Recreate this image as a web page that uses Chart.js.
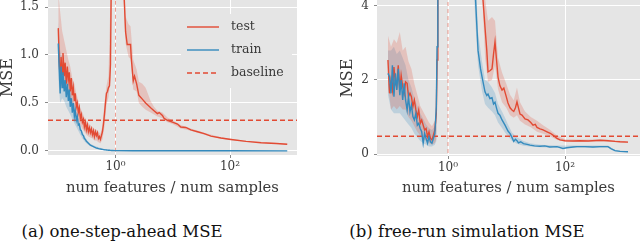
<!DOCTYPE html>
<html><head><meta charset="utf-8">
<script src="https://cdn.jsdelivr.net/npm/chart.js@4.4.0/dist/chart.umd.min.js"></script>
<style>
html,body{margin:0;padding:0;background:#fff;width:640px;height:248px;overflow:hidden;}
#c1{position:absolute;left:0;top:0;}
#c2{position:absolute;left:320px;top:0;}
.cap{position:absolute;top:222px;line-height:20px;font-family:"DejaVu Serif",serif;font-size:16.5px;color:#111;white-space:nowrap;transform:translateX(-50%);}
</style></head><body>
<canvas id="c1" width="320" height="200"></canvas>
<canvas id="c2" width="320" height="200"></canvas>
<div class="cap" style="left:122px">(a) one-step-ahead MSE</div>
<div class="cap" style="left:467px">(b) free-run simulation MSE</div>
<script>
// ---------- data ----------
const legendLabels = ['test', 'train', 'baseline'];
const xTickValues = [1, 100];
const xTickLabels = ['10\u2070', '10\u00B2'];
const xTitle = 'num features / num samples';
const yTitle = 'MSE';
const threshold = 1;

// (a) one-step-ahead
const aYTickValues = [0, 0.5, 1.0, 1.5];
const aYTickLabels = ['0.0', '0.5', '1.0', '1.5'];
const aBaseline = 0.32;
const aTestX = [0.100,0.104,0.108,0.112,0.117,0.121,0.127,0.132,0.138,0.144,0.150,0.156,0.162,0.169,0.176,0.183,0.191,0.198,0.207,0.215,0.224,0.233,0.243,0.253,0.264,0.275,0.286,0.298,0.310,0.323,0.336,0.350,0.364,0.379,0.395,0.411,0.428,0.446,0.464,0.483,0.503,0.524,0.545,0.568,0.591,0.616,0.641,0.668,0.695,0.724,0.754,0.785,0.817,0.851,0.886,1.0,1.35,1.5,1.6,1.83,1.885,2.04,2.15,2.34,2.56,2.94,3.36,4.11,4.70,5.39,5.8,6.60,7.04,8.07,9.88,12.1,13.8,16.9,20.7,27.1,35.4,46.4,69.5,104,191,350,641,1000];
const aTestY = [1.28,0.95,0.72,0.98,0.80,1.02,0.78,0.92,0.70,0.88,0.74,0.82,0.62,0.76,0.58,0.66,0.52,0.60,0.46,0.50,0.40,0.45,0.34,0.38,0.30,0.33,0.25,0.30,0.22,0.27,0.20,0.24,0.19,0.23,0.17,0.21,0.15,0.20,0.16,0.19,0.13,0.15,0.12,0.16,0.20,0.28,0.38,0.50,0.60,0.62,0.66,0.68,0.90,2.0,3.0,30,1.9,1.24,1.11,1.11,0.97,0.73,0.78,0.70,0.58,0.54,0.50,0.45,0.42,0.39,0.40,0.37,0.34,0.32,0.30,0.28,0.25,0.245,0.22,0.20,0.18,0.155,0.135,0.12,0.10,0.085,0.078,0.07];
const aTrainX = [0.100,0.104,0.108,0.112,0.117,0.121,0.127,0.132,0.138,0.144,0.150,0.156,0.162,0.169,0.176,0.183,0.191,0.198,0.207,0.215,0.224,0.233,0.243,0.253,0.264,0.275,0.286,0.298,0.310,0.323,0.336,0.350,0.364,0.379,0.395,0.411,0.428,0.446,0.464,0.483,0.503,0.524,0.545,0.568,0.591,0.616,0.641,0.668,0.695,0.724,0.754,0.785,0.817,0.851,0.886,1.0,2.0,10,100,1000];
const aTrainY = [1.12,0.85,0.60,0.88,0.66,0.82,0.62,0.74,0.56,0.70,0.52,0.64,0.46,0.55,0.40,0.50,0.36,0.42,0.32,0.36,0.27,0.28,0.22,0.21,0.17,0.16,0.13,0.12,0.10,0.09,0.08,0.07,0.06,0.055,0.05,0.045,0.04,0.035,0.03,0.028,0.025,0.022,0.02,0.018,0.016,0.014,0.012,0.011,0.01,0.009,0.008,0.007,0.006,0.005,0.005,0.004,0.003,0.002,0.002,0.001];
const aTestBandX = [0.100,0.108,0.117,0.127,0.138,0.150,0.162,0.176,0.191,0.207,0.224,0.243,0.264,0.286,0.310,0.336,0.364,0.395,0.428,0.464,0.503,0.545,0.591,0.641,0.695,0.754,0.817,0.886,1.0,1.35,1.5,1.69,1.83,2.04,2.34,2.56,2.94,3.36,4.11,4.70,5.39,6.60,8.07,9.88,13.8,20.7,35.4,69.5,191,641,1000];
const aTestLo = [0.95,0.62,0.68,0.65,0.60,0.62,0.52,0.48,0.42,0.36,0.32,0.27,0.23,0.20,0.17,0.15,0.14,0.13,0.11,0.11,0.09,0.08,0.12,0.25,0.48,0.56,0.75,2.5,25,1.75,1.12,0.98,0.96,0.64,0.62,0.50,0.46,0.43,0.40,0.38,0.36,0.34,0.30,0.28,0.235,0.21,0.17,0.128,0.095,0.074,0.066];
const aTestHi = [1.65,1.45,1.25,1.15,1.05,0.95,0.88,0.76,0.70,0.60,0.52,0.45,0.40,0.35,0.31,0.29,0.27,0.25,0.23,0.22,0.20,0.18,0.26,0.50,0.68,0.78,1.60,3.5,45,2.3,1.40,1.32,1.30,0.95,0.85,0.72,0.70,0.66,0.52,0.46,0.42,0.40,0.35,0.32,0.27,0.235,0.19,0.142,0.105,0.082,0.074];
const aTrainBandX = [0.100,0.108,0.117,0.127,0.138,0.150,0.162,0.176,0.191,0.207,0.224,0.243,0.264,0.286,0.310,0.364,0.428,0.503,0.641,0.817];
const aTrainLo = [0.75,0.50,0.55,0.52,0.46,0.42,0.38,0.33,0.29,0.25,0.21,0.17,0.13,0.10,0.08,0.05,0.035,0.022,0.01,0.004];
const aTrainHi = [1.35,1.05,0.95,0.85,0.80,0.72,0.64,0.58,0.50,0.42,0.34,0.27,0.20,0.16,0.12,0.075,0.055,0.038,0.02,0.01];

// (b) free-run simulation
const bYTickValues = [0, 2, 4];
const bYTickLabels = ['0', '2', '4'];
const bBaseline = 0.48;
const bTestX = [0.094,0.1,0.106,0.112,0.119,0.126,0.133,0.141,0.15,0.158,0.168,0.178,0.188,0.2,0.211,0.224,0.237,0.251,0.266,0.282,0.299,0.316,0.335,0.355,0.376,0.398,0.422,0.447,0.473,0.501,0.531,0.562,0.596,0.631,0.65,0.67,1.0,3.8,3.95,4.3,4.6,4.83,5.2,5.65,6.0,6.36,6.7,7.16,7.7,8.38,9.0,9.9,10.6,11.5,12.4,13.3,14.2,15.1,15.7,17.0,18.4,20.7,23.3,26,28.4,31,33.2,37.4,42.1,49.2,56,62.3,73,82.2,100,137,180,250,396,543,716,872,1194];
const bTestY = [2.54,1.64,2.0,1.73,2.35,1.91,1.82,2.4,1.73,2.13,1.82,1.64,1.95,1.91,1.55,1.64,1.55,1.28,1.46,1.19,1.01,1.19,0.83,0.92,0.78,0.65,0.69,0.47,0.60,0.42,0.38,0.51,0.65,1.1,2.54,6,40,6,4.2,3.4,2.8,2.22,2.25,2.30,2.7,3.03,2.6,2.08,1.85,1.73,1.78,1.55,1.38,1.25,1.19,1.15,1.25,1.41,1.30,1.08,1.05,0.95,0.92,0.85,0.78,0.80,0.72,0.68,0.65,0.60,0.56,0.51,0.42,0.38,0.36,0.35,0.36,0.35,0.37,0.36,0.34,0.33,0.32];
const bTrainX = [0.094,0.1,0.106,0.112,0.119,0.126,0.133,0.141,0.15,0.158,0.168,0.178,0.188,0.2,0.211,0.224,0.237,0.251,0.266,0.282,0.299,0.316,0.335,0.355,0.376,0.398,0.422,0.447,0.473,0.501,0.531,0.562,0.596,0.631,0.65,0.67,1.0,2.75,2.95,3.26,3.6,3.81,4.29,4.6,4.83,5.2,5.65,6.0,6.36,6.8,7.16,7.7,8.38,9.43,10.6,11.5,12.4,13.3,14.2,15.1,16.0,17.5,19.5,22.5,25.2,30,37.4,45,55,73,92,108,137,160,220,300,396,543,620,716,872,1194];
const bTrainY = [2.18,2.09,1.64,2.4,1.55,2.18,1.73,2.3,1.59,2.0,1.46,1.91,1.46,1.19,1.55,1.14,1.32,1.01,0.92,1.1,0.78,0.83,0.69,0.60,0.29,0.56,0.42,0.29,0.47,0.33,0.29,0.42,0.56,1.28,2.9,6,40,6,4.2,2.8,2.3,2.09,1.68,1.58,1.62,1.50,1.52,1.35,1.40,1.22,1.10,1.05,0.92,0.78,0.62,0.55,0.45,0.34,0.40,0.36,0.30,0.33,0.28,0.26,0.24,0.22,0.21,0.22,0.19,0.20,0.15,0.17,0.19,0.20,0.20,0.19,0.20,0.20,0.14,0.09,0.07,0.06];
const bTestBandX = [0.094,0.106,0.119,0.133,0.150,0.168,0.188,0.211,0.237,0.266,0.299,0.335,0.376,0.422,0.473,0.531,0.596,0.631,0.65,0.67,1.0,3.8,4.3,4.83,5.65,6.36,7.16,8.38,9.9,11.5,13.3,15.1,17.0,20.7,26,33.2,42.1,56,73,100,200,500,1194];
const bTestLo = [1.9,1.2,1.3,1.2,1.3,1.2,1.2,1.0,0.9,0.75,0.6,0.5,0.4,0.35,0.3,0.25,0.3,0.4,1.8,4.5,30,4.5,2.6,1.95,2.0,2.4,1.75,1.4,1.25,1.05,0.98,1.05,0.9,0.8,0.72,0.6,0.55,0.48,0.38,0.33,0.33,0.34,0.30];
const bTestHi = [3.2,2.9,3.1,3.0,3.3,2.8,2.9,2.5,2.3,1.9,1.6,1.3,1.15,1.0,0.85,0.75,0.9,1.0,3.3,6,50,7,4.2,3.6,3.7,3.6,2.6,2.2,1.9,1.6,1.45,1.8,1.4,1.15,1.0,0.9,0.78,0.65,0.5,0.4,0.39,0.39,0.34];
const bTrainBandX = [0.094,0.106,0.119,0.133,0.150,0.168,0.188,0.211,0.237,0.266,0.299,0.335,0.376,0.422,0.473,0.531,0.596,0.631,0.65,0.67,1.0,2.75,2.95,3.26,3.81,4.29,4.83,5.65,6.36,7.16,8.38,9.43,10.6,12.4,15.1,19.5,25.2,37.4,73,160,543,716,1194];
const bTrainLo = [1.6,1.2,1.1,1.1,1.1,1.0,0.9,0.8,0.7,0.55,0.45,0.35,0.3,0.25,0.2,0.2,0.25,0.35,1.6,4.5,30,4.5,3.5,2.4,1.7,1.35,1.25,1.15,1.05,0.85,0.7,0.58,0.48,0.35,0.28,0.22,0.2,0.18,0.17,0.17,0.17,0.07,0.045];
const bTrainHi = [2.8,2.8,2.9,2.7,2.8,2.6,2.4,2.0,1.8,1.5,1.3,1.1,0.95,0.8,0.7,0.65,0.75,0.9,3.5,6,50,7,5.0,3.3,2.5,2.0,1.95,1.8,1.65,1.35,1.15,0.98,0.8,0.58,0.45,0.35,0.29,0.25,0.23,0.23,0.23,0.11,0.075];

// ---------- styling ----------
const RED = '#E24A33', BLUE = '#348ABD', BG = '#E5E5E5';
const RED_BAND = 'rgba(226,74,51,0.22)', BLUE_BAND = 'rgba(52,138,189,0.22)';
const SERIF = "'DejaVu Serif', serif";
const TEXT = '#3a3a3a';

function pts(xs, ys) { return xs.map((x, i) => ({ x: x, y: ys[i] })); }

const bgPlugin = {
  id: 'bg',
  beforeDraw(chart) {
    const a = chart.chartArea, ctx = chart.ctx;
    ctx.save(); ctx.fillStyle = BG;
    ctx.fillRect(a.left, a.top, a.right - a.left, a.bottom - a.top);
    ctx.restore();
  }
};

const legendPlugin = {
  id: 'inlegend',
  afterDatasetsDraw(chart) {
    const ctx = chart.ctx;
    ctx.save();
    ctx.fillStyle = BG;
    ctx.beginPath();
    ctx.roundRect(181, 14, 111, 74, 3);
    ctx.fill();
    const rows = [27, 50, 73];
    legendLabels.forEach((lab, i) => {
      const ds = chart.data.datasets.find(d => d.label === lab);
      ctx.strokeStyle = ds.borderColor;
      ctx.lineWidth = ds.borderWidth;
      ctx.setLineDash(ds.borderDash || []);
      ctx.beginPath();
      ctx.moveTo(187, rows[i]); ctx.lineTo(219, rows[i]);
      ctx.stroke();
      ctx.setLineDash([]);
      ctx.fillStyle = TEXT;
      ctx.font = "12.5px " + SERIF;
      ctx.textBaseline = 'middle';
      ctx.textAlign = 'left';
      ctx.fillText(lab, 231, rows[i]);
    });
    ctx.restore();
  }
};

function makeChart(id, p) {
  const datasets = [
    { label: 'train', data: pts(p.trainX, p.trainY), borderColor: BLUE, borderWidth: 1.4, pointRadius: 0, tension: 0, fill: false },
    { label: 'test', data: pts(p.testX, p.testY), borderColor: RED, borderWidth: 1.4, pointRadius: 0, tension: 0, fill: false },
    { label: 'baseline', data: [{ x: p.xMin, y: p.baseline }, { x: p.xMax, y: p.baseline }], borderColor: RED, borderWidth: 1.4, borderDash: [5, 3], pointRadius: 0, fill: false },
    { label: 'threshold', data: [{ x: threshold, y: -10 }, { x: threshold, y: 100 }], borderColor: 'rgba(226,74,51,0.55)', borderWidth: 1, borderDash: [4, 3], pointRadius: 0, fill: false },
    { label: 'testLo', data: pts(p.testBandX, p.testLo), borderColor: 'rgba(0,0,0,0)', borderWidth: 0, pointRadius: 0, fill: false },
    { label: 'testHi', data: pts(p.testBandX, p.testHi), borderColor: 'rgba(0,0,0,0)', borderWidth: 0, pointRadius: 0, fill: '-1', backgroundColor: RED_BAND },
    { label: 'trainLo', data: pts(p.trainBandX, p.trainLo), borderColor: 'rgba(0,0,0,0)', borderWidth: 0, pointRadius: 0, fill: false },
    { label: 'trainHi', data: pts(p.trainBandX, p.trainHi), borderColor: 'rgba(0,0,0,0)', borderWidth: 0, pointRadius: 0, fill: '-1', backgroundColor: BLUE_BAND }
  ];
  return new Chart(document.getElementById(id), {
    type: 'line',
    data: { datasets: datasets },
    plugins: p.plugins,
    options: {
      responsive: false, animation: false, devicePixelRatio: 1,
      layout: { padding: { left: 0, right: p.padRight, top: 0, bottom: 0 } },
      plugins: { legend: { display: false }, tooltip: { enabled: false } },
      scales: {
        x: {
          type: 'logarithmic', min: p.xMin, max: p.xMax,
          border: { display: false },
          grid: { color: '#ffffff', lineWidth: 1, tickColor: '#8a8a8a', tickLength: 3 },
          ticks: { autoSkip: false, maxRotation: 0, padding: 2, color: TEXT,
                   font: { family: SERIF, size: 12 },
                   callback: (v) => xTickLabels[xTickValues.indexOf(v)] },
          title: { display: true, text: xTitle, color: TEXT, font: { family: SERIF, size: 14.8, lineHeight: 1.2 }, padding: { top: 0, bottom: 3 } },
          afterBuildTicks: (s) => { s.ticks = xTickValues.map(v => ({ value: v })); },
          afterFit: (s) => { s.height = p.xAxisH; s.paddingLeft = 0; s.paddingRight = 0; }
        },
        y: {
          type: 'linear', min: p.yMin, max: p.yMax,
          border: { display: false },
          grid: { color: '#ffffff', lineWidth: 1, tickColor: '#8a8a8a', tickLength: 3 },
          ticks: { padding: p.yTickPad, color: TEXT, font: { family: SERIF, size: 12 },
                   callback: (v, i) => p.yTickLabels[i] },
          title: { display: true, text: yTitle, color: TEXT, font: { family: SERIF, size: 16, lineHeight: 1 }, padding: { top: p.yTitlePad, bottom: 0 } },
          afterBuildTicks: (s) => { s.ticks = p.yTickValues.map(v => ({ value: v })); },
          afterFit: (s) => { s.width = p.yAxisW; s.paddingTop = 0; s.paddingBottom = 0; }
        }
      }
    }
  });
}

makeChart('c1', {
  trainX: aTrainX, trainY: aTrainY, testX: aTestX, testY: aTestY,
  testBandX: aTestBandX, testLo: aTestLo, testHi: aTestHi,
  trainBandX: aTrainBandX, trainLo: aTrainLo, trainHi: aTrainHi,
  baseline: aBaseline, yTickValues: aYTickValues, yTickLabels: aYTickLabels,
  xMin: 0.0662, xMax: 1480, yMin: -0.042, yMax: 1.573,
  padRight: 23, xAxisH: 45, yAxisW: 48, yTickPad: 6, yTitlePad: 0,
  plugins: [bgPlugin, legendPlugin]
});
makeChart('c2', {
  trainX: bTrainX, trainY: bTrainY, testX: bTestX, testY: bTestY,
  testBandX: bTestBandX, testLo: bTestLo, testHi: bTestHi,
  trainBandX: bTrainBandX, trainLo: bTrainLo, trainHi: bTrainHi,
  baseline: bBaseline, yTickValues: bYTickValues, yTickLabels: bYTickLabels,
  xMin: 0.0611, xMax: 1914, yMin: -0.054, yMax: 4.162,
  padRight: 0, xAxisH: 44, yAxisW: 57, yTickPad: 5, yTitlePad: 20,
  plugins: [bgPlugin]
});
</script>
</body></html>
